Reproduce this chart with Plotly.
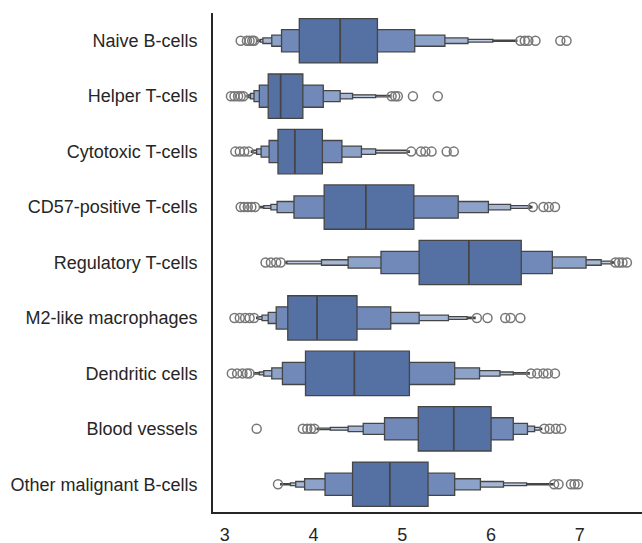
import plotly.graph_objects as go

# Cell-type categories, top to bottom
categories = [
    "Naive B-cells",
    "Helper T-cells",
    "Cytotoxic T-cells",
    "CD57-positive T-cells",
    "Regulatory T-cells",
    "M2-like macrophages",
    "Dendritic cells",
    "Blood vessels",
    "Other malignant B-cells",
]

medians = [4.30, 3.63, 3.79, 4.59, 5.75, 4.04, 4.46, 5.58, 4.86]

# Letter-value box edges per category, innermost (quartiles) first
level_lows = [
    [3.84, 3.64, 3.53, 3.43, 3.40, 3.37],
    [3.49, 3.39, 3.33, 3.29, 3.27, 3.25],
    [3.60, 3.50, 3.41, 3.36, 3.32, 3.30],
    [4.12, 3.78, 3.59, 3.52, 3.44, 3.40],
    [5.19, 4.76, 4.39, 4.09, 3.70, 3.68],
    [3.71, 3.58, 3.49, 3.42, 3.38, 3.36],
    [3.91, 3.65, 3.53, 3.44, 3.39, 3.33],
    [5.18, 4.80, 4.56, 4.39, 4.19, 4.04],
    [4.44, 4.13, 3.90, 3.80, 3.74, 3.63],
]
level_highs = [
    [4.72, 5.14, 5.48, 5.74, 6.02, 6.29],
    [3.88, 4.11, 4.30, 4.44, 4.70, 4.87],
    [4.10, 4.32, 4.54, 4.70, 5.05, 5.08],
    [5.13, 5.63, 5.97, 6.22, 6.44, 6.46],
    [6.34, 6.69, 7.07, 7.24, 7.36, 7.38],
    [4.49, 4.87, 5.19, 5.52, 5.73, 5.82],
    [5.08, 5.59, 5.87, 6.10, 6.25, 6.43],
    [6.00, 6.25, 6.41, 6.49, 6.55, 6.57],
    [5.29, 5.59, 5.88, 6.14, 6.40, 6.70],
]

# Points beyond the outermost letter values
outliers = [
    [3.18, 3.25, 3.28, 3.31, 3.33, 6.33, 6.38, 6.42, 6.50, 6.78, 6.85],
    [3.07, 3.11, 3.15, 3.18, 3.21, 4.88, 4.92, 4.95, 5.12, 5.40],
    [3.12, 3.17, 3.22, 3.27, 5.10, 5.21, 5.26, 5.33, 5.50, 5.58],
    [3.18, 3.22, 3.26, 3.30, 3.34, 6.47, 6.59, 6.65, 6.72],
    [3.46, 3.52, 3.58, 3.63, 7.40, 7.44, 7.48, 7.53],
    [3.11, 3.17, 3.23, 3.28, 3.33, 5.84, 5.96, 6.16, 6.22, 6.33],
    [3.08, 3.14, 3.20, 3.25, 3.28, 6.45, 6.52, 6.59, 6.64, 6.72],
    [3.36, 3.88, 3.93, 3.97, 4.01, 6.60, 6.66, 6.73, 6.79],
    [3.60, 6.71, 6.76, 6.90, 6.94, 6.98],
]

level_widths = [0.8, 0.4, 0.2, 0.1, 0.05, 0.025]
level_colors = ["#5571a4", "#7189b8", "#8da2c8", "#a6b7d6", "#bccae2", "#d0daeb"]
edge_color = "#454545"

fig = go.Figure()

# Outermost levels first so inner boxes sit on top
for lvl in reversed(range(len(level_widths))):
    ys, bases, lengths = [], [], []
    for i in range(len(categories)):
        lo = level_lows[i][lvl]
        hi = level_highs[i][lvl]
        ys.append(i)
        bases.append(lo)
        lengths.append(hi - lo)
    fig.add_trace(go.Bar(
        orientation="h",
        y=ys,
        x=lengths,
        base=bases,
        width=[level_widths[lvl]] * len(ys),
        marker=dict(color=level_colors[lvl],
                    line=dict(color=edge_color, width=1.3)),
        hoverinfo="skip",
        showlegend=False,
    ))

# Median lines across the central box
mx, my = [], []
for i, m in enumerate(medians):
    mx += [m, m, None]
    my += [i - level_widths[0] / 2, i + level_widths[0] / 2, None]
fig.add_trace(go.Scatter(x=mx, y=my, mode="lines",
                         line=dict(color=edge_color, width=1.8),
                         hoverinfo="skip", showlegend=False))

# Outlier markers
ox, oy = [], []
for i, pts in enumerate(outliers):
    ox += pts
    oy += [i] * len(pts)
fig.add_trace(go.Scatter(x=ox, y=oy, mode="markers",
                         marker=dict(symbol="circle-open", size=9,
                                     color="#777777",
                                     line=dict(width=1.5, color="#777777")),
                         hoverinfo="skip", showlegend=False))

font_family = "Liberation Sans, Arial, sans-serif"
fig.update_layout(
    width=642, height=543,
    margin=dict(l=213, r=0, t=13, b=31),
    plot_bgcolor="white", paper_bgcolor="white",
    barmode="overlay",
    font=dict(family=font_family, size=18, color="#262626"),
    xaxis=dict(range=[2.868, 7.70], tickvals=[3, 4, 5, 6, 7],
               showgrid=False, zeroline=False, automargin=False,
               showline=True, linecolor="#262626", linewidth=1.8,
               ticks="outside", ticklen=5, tickcolor="rgba(0,0,0,0)",
               tickfont=dict(size=18)),
    yaxis=dict(range=[8.5, -0.5], tickvals=list(range(len(categories))),
               ticktext=categories,
               showgrid=False, zeroline=False, automargin=False,
               showline=True, linecolor="#262626", linewidth=1.8,
               ticks="outside", ticklen=10, tickcolor="rgba(0,0,0,0)",
               tickfont=dict(size=18)),
)

fig.write_html("out.html")
